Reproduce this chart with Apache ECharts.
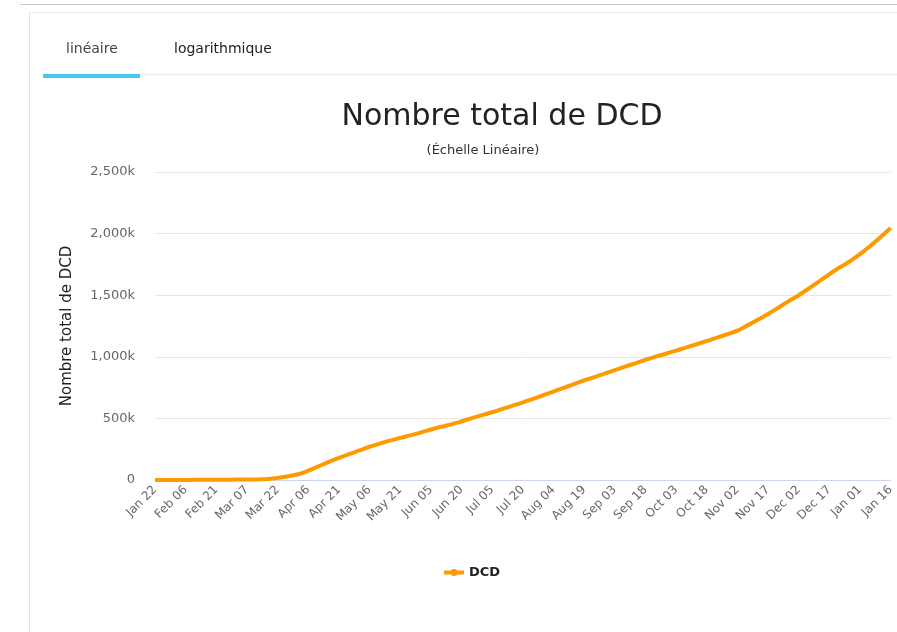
<!DOCTYPE html>
<html>
<head>
<meta charset="utf-8">
<script src="https://cdn.jsdelivr.net/npm/echarts@6/dist/echarts.min.js"></script>
<style>
html,body{margin:0;padding:0;background:#fff;}
#chart{width:897px;height:632px;}
</style>
</head>
<body>
<div id="chart"></div>
<script>
// Dates every 5 days from 2020-01-22 to 2021-01-16
const startDate = '2020-01-22';
const stepDays = 5;
const seriesName = 'DCD';
// Cumulative deaths, one value per 5 days
const deaths = [
  17, 82, 260, 565, 1110, 1770, 2250, 2800, 3150, 3560,
  4980, 8000, 16500, 30000, 47000, 76000, 110000, 147000, 180000, 210000,
  240000, 270000, 295000, 320000, 342000, 362000, 385000, 410000, 432000, 452000,
  476000, 502000, 526000, 550000, 577000, 603000, 630000, 659000, 688000, 718000,
  748000, 778000, 808000, 835000, 864000, 892000, 920000, 947000, 975000, 1002000,
  1025000, 1050000, 1077000, 1102000, 1128000, 1155000, 1183000, 1212000, 1255000, 1300000,
  1348000, 1398000, 1450000, 1500000, 1555000, 1612000, 1670000, 1725000, 1775000, 1833000,
  1900000, 1970000, 2045000
];
const yTicks = [0, 500000, 1000000, 1500000, 2000000, 2500000];
const titleText = 'Nombre total de DCD';
const subtitleText = '(Échelle Linéaire)';
const yAxisName = 'Nombre total de DCD';
const tabLabels = ['linéaire', 'logarithmique'];

const months = ['Jan','Feb','Mar','Apr','May','Jun','Jul','Aug','Sep','Oct','Nov','Dec'];
const categories = [];
(function(){
  const d0 = new Date(startDate + 'T00:00:00Z');
  for (let i = 0; i < deaths.length; i++) {
    const d = new Date(d0.getTime() + i * stepDays * 86400000);
    const dd = String(d.getUTCDate()).padStart(2, '0');
    categories.push(months[d.getUTCMonth()] + ' ' + dd);
  }
})();

const chart = echarts.init(document.getElementById('chart'), null, {renderer: 'canvas'});
const font = 'DejaVu Sans, sans-serif';
chart.setOption({
  animation: false,
  backgroundColor: '#ffffff',
  graphic: [
    {type: 'line', shape: {x1: 20, y1: 4.5, x2: 897, y2: 4.5}, style: {stroke: '#c8c8c8', lineWidth: 1}},
    {type: 'line', shape: {x1: 29.5, y1: 12, x2: 29.5, y2: 632}, style: {stroke: '#e3e3e3', lineWidth: 1}},
    {type: 'line', shape: {x1: 29.5, y1: 12.5, x2: 897, y2: 12.5}, style: {stroke: '#ececec', lineWidth: 1}},
    {type: 'line', shape: {x1: 43, y1: 74.5, x2: 897, y2: 74.5}, style: {stroke: '#efefef', lineWidth: 1.5}},
    {type: 'rect', shape: {x: 43, y: 74, width: 97, height: 4}, style: {fill: '#44c8f5'}},
    {type: 'text', left: 66, top: 42, style: {text: tabLabels[0], font: '14px ' + font, fill: '#444'}},
    {type: 'text', left: 174, top: 42, style: {text: tabLabels[1], font: '14px ' + font, fill: '#222'}}
  ],
  title: [{
    text: titleText,
    left: 497,
    textAlign: 'center',
    top: 97,
    textStyle: {fontFamily: font, fontSize: 30, fontWeight: 'normal', color: '#222'}
  }, {
    text: subtitleText,
    left: 478,
    textAlign: 'center',
    top: 139,
    textStyle: {fontFamily: font, fontSize: 13, fontWeight: 'normal', color: '#333'}
  }],
  legend: {
    data: [seriesName],
    bottom: 48,
    left: 437,
    itemWidth: 20,
    itemHeight: 9,
    itemGap: 10,
    lineStyle: {width: 4},
    textStyle: {fontFamily: font, fontSize: 13, fontWeight: 'bold', color: '#222'}
  },
  grid: {left: 155, right: 2, top: 172, bottom: 152, containLabel: false},
  xAxis: {
    type: 'category',
    data: categories,
    boundaryGap: false,
    axisLine: {lineStyle: {color: '#ccd6eb', width: 1}},
    axisTick: {show: false},
    axisLabel: {interval: 2, rotate: 45, fontFamily: font, fontSize: 12, color: '#666', margin: 8},
    splitLine: {show: false}
  },
  yAxis: {
    type: 'value',
    min: yTicks[0],
    max: yTicks[yTicks.length - 1],
    interval: yTicks[1] - yTicks[0],
    name: yAxisName,
    nameLocation: 'middle',
    nameGap: 80,
    nameTextStyle: {fontFamily: font, fontSize: 15, color: '#222'},
    axisLine: {show: false},
    axisTick: {show: false},
    axisLabel: {
      fontFamily: font, fontSize: 13, color: '#666', margin: 20,
      formatter: function (v) { return v === 0 ? '0' : (v / 1000).toLocaleString('en-US') + 'k'; }
    },
    splitLine: {lineStyle: {color: '#e6e6e6', width: 1}}
  },
  series: [{
    name: seriesName,
    type: 'line',
    data: deaths,
    smooth: 0.3,
    symbol: 'circle',
    symbolSize: 8,
    showSymbol: false,
    lineStyle: {color: '#ff9900', width: 4},
    itemStyle: {color: '#ff9900'}
  }]
});
</script>
</body>
</html>
